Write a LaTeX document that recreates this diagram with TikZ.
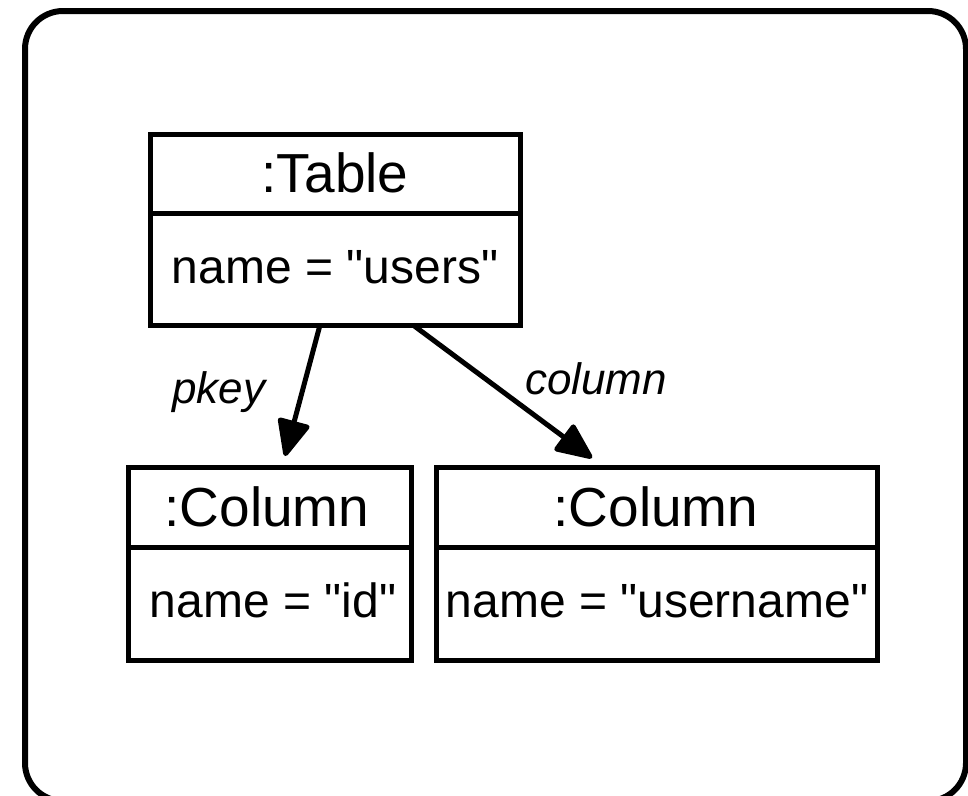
\documentclass[tikz,border=0pt]{standalone}
\usepackage{fontspec}
\setmainfont{Liberation Sans}[Ligatures=TeXOff]
\usetikzlibrary{arrows.meta,calc}
\begin{document}
\begin{tikzpicture}[x=1pt,y=-1pt,
  frame/.style={draw, line width=6pt, rounded corners=38pt},
  compart/.style={draw, line width=5pt, rectangle, inner sep=0pt, outer sep=0pt},
  head/.style={font=\fontsize{55}{66}\selectfont, inner sep=0pt, anchor=base},
  attr/.style={font=\fontsize{48}{58}\selectfont, inner sep=0pt, anchor=base},
  role/.style={font=\fontsize{44}{52}\selectfont\itshape, inner sep=0pt, anchor=base},
  link/.style={line width=5pt, -{Triangle[length=40pt,width=34pt,round]}}]
\useasboundingbox (0,0) rectangle (968,795);

% outer frame
\draw[frame] (25,11) rectangle (966,801);

% :Table object
\node[compart, minimum width=370pt, minimum height=79pt] (tabH) at (335,173.5) {};
\node[compart, minimum width=370pt, minimum height=112pt] (tabB) at (335,269) {};
\node[head] (tabT) at (335,192) {:Table};
\node[attr] (tabA) at (335,283) {name = "users"};

% :Column object (id)
\node[compart, minimum width=283pt, minimum height=80pt] (idH) at (269.5,507) {};
\node[compart, minimum width=283pt, minimum height=113pt] (idB) at (269.5,603.5) {};
\node[head] (idT) at (267,526) {:Column};
\node[attr] (idA) at (273,617.5) {name = "id"};

% :Column object (username)
\node[compart, minimum width=441pt, minimum height=80pt] (unH) at (656.5,507) {};
\node[compart, minimum width=441pt, minimum height=113pt] (unB) at (656.5,603.5) {};
\node[head] (unT) at (656,526) {:Column};
\node[attr] (unA) at (657,617.5) {name = "username"};

% links
\draw[link] ($(tabB.south west)+(170,0)$) -- ($(idH.north west)+(157,-11)$);
\draw[link] ($(tabB.south west)+(263,0)$) -- ($(unH.north west)+(156,-9)$);

% link roles
\node[role] (pk) at (219,403) {pkey};
\node[role] (col) at (596,394) {column};
\end{tikzpicture}
\end{document}
